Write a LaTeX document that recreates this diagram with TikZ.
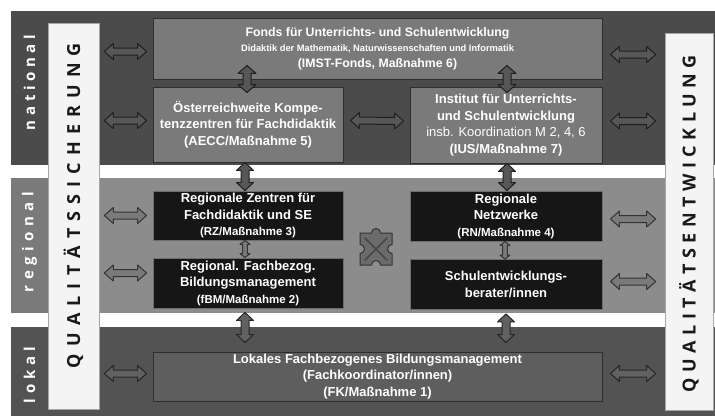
\documentclass[tikz,border=0pt]{standalone}
\usepackage{fontspec}
\setmainfont{Liberation Sans}
\newfontfamily\barfont[BoldFont={Open Sans Bold}]{Open Sans}
\usetikzlibrary{calc}
\definecolor{natband}{HTML}{4B4B4B}
\definecolor{regband}{HTML}{8C8C8C}
\definecolor{regstrip}{HTML}{7A7A7A}
\definecolor{lokband}{HTML}{535353}
\definecolor{midbox}{HTML}{7A7A7A}
\definecolor{lokbox}{HTML}{5E5E5E}
\definecolor{blackbox}{HTML}{161616}
\definecolor{edge}{HTML}{2E2E2E}
\definecolor{barfill}{HTML}{F4F4F4}
% spread letters evenly over a given width
\def\spreadloop#1{\ifx#1\relax\else\hfil#1\expandafter\spreadloop\fi}
\def\spreadfirst#1{#1\spreadloop}
\newcommand\spreadword[2]{\makebox[#1][s]{\spreadfirst#2\relax}}
\tikzset{
  boxtext/.style={text=white, align=center, font=\bfseries\fontsize{13}{16.5}\selectfont, inner sep=0pt},
  midboxst/.style={boxtext, fill=midbox, draw=edge, line width=0.9pt},
  blackboxst/.style={boxtext, fill=blackbox, draw=edge!70, line width=0.9pt},
  lokboxst/.style={boxtext, fill=lokbox, draw=edge, line width=0.9pt},
  barst/.style={fill=barfill, draw=gray!70, line width=0.6pt, inner sep=0pt},
  bartext/.style={rotate=90, inner sep=0pt, font=\barfont\bfseries\fontsize{18}{18}\selectfont, text=black!90},
  lbltext/.style={rotate=90, inner sep=0pt, font=\barfont\bfseries\fontsize{15}{15}\selectfont, text=white},
  arrN/.style={fill=black!66, draw=black!88, line width=1pt, line join=round},
  arrR/.style={fill=black!52, draw=black!80, line width=1pt, line join=round},
  arrL/.style={fill=black!62, draw=black!85, line width=1pt, line join=round},
}
% horizontal double block arrow: style, left tip, right tip, shaft half, head half, head length
\newcommand\hdarrow[6]{\draw[#1] (#2) -- ++(#6,#5) -- ++(0,#4-#5) -- ($(#3)+(-#6,#4)$) -- ++(0,#5-#4) -- (#3) -- ++(-#6,-#5) -- ++(0,#5-#4) -- ($(#2)+(#6,-#4)$) -- ++(0,#4-#5) -- cycle;}
% vertical double block arrow: style, top tip, bottom tip, shaft half, head half, head length
\newcommand\vdarrow[6]{\draw[#1] (#2) -- ++(#5,#6) -- ++(#4-#5,0) -- ($(#3)+(#4,-#6)$) -- ++(#5-#4,0) -- (#3) -- ++(-#5,-#6) -- ++(#5-#4,0) -- ($(#2)+(-#4,#6)$) -- ++(#4-#5,0) -- cycle;}
\begin{document}
\begin{tikzpicture}[x=1pt,y=-1pt]
\useasboundingbox (0,0) rectangle (715,416);
\fill[white] (0,0) rectangle (715,416);
% bands
\fill[natband] (11,11) rectangle (715,165);
\fill[regband] (11,178) rectangle (715,313);
\fill[regstrip] (11,178) rectangle (48,313);
\fill[lokband] (11,327) rectangle (715,416);
% level labels
\node[lbltext] (lnat) at (29.5,82.5) {\spreadword{95pt}{national}};
\node[lbltext] (lreg) at (29.5,242) {\spreadword{100pt}{regional}};
\node[lbltext] (llok) at (29.5,375) {\spreadword{56pt}{lokal}};
% side bars
\node[barst, minimum width=51pt, minimum height=386pt] (qs) at (73.5,216) {};
\node[bartext] (qstext) at (73.5,205.5) {\spreadword{325pt}{QUALITÄTSSICHERUNG}};
\node[barst, minimum width=48pt, minimum height=377pt] (qe) at (689,221.5) {};
\node[bartext] (qetext) at (689,223.5) {\spreadword{337pt}{QUALITÄTSENTWICKLUNG}};
% boxes
\node[midboxst, minimum width=449pt, minimum height=61pt] (fonds) at (377.5,48.5)
  {{\fontsize{12.3}{14}\selectfont Fonds für Unterrichts- und Schulentwicklung}\\[-1pt]
   {\fontsize{9.3}{12}\selectfont Didaktik der Mathematik, Naturwissenschaften und Informatik}\\[-1pt]
   {\fontsize{12.3}{14}\selectfont (IMST-Fonds, Maßnahme 6)}};
\node[midboxst, minimum width=190pt, minimum height=75pt] (oest) at (248,124.5)
  {Österreichweite Kompe-\\tenzzentren für Fachdidaktik\\(AECC/Maßnahme 5)};
\node[midboxst, minimum width=192pt, minimum height=76pt] (ius) at (506,125)
  {Institut für Unterrichts-\\und Schulentwicklung\\{\mdseries insb. Koordination M 2, 4, 6}\\(IUS/Maßnahme 7)};
\node[blackboxst, minimum width=190pt, minimum height=49pt] (rz) at (248,215.5)
  {Regionale Zentren für\\Fachdidaktik und SE\\{\fontsize{11.5}{14}\selectfont (RZ/Maßnahme 3)}};
\node[blackboxst, minimum width=190pt, minimum height=50pt] (fbm) at (248,283)
  {Regional. Fachbezog.\\Bildungsmanagement\\{\fontsize{11.5}{14}\selectfont (fBM/Maßnahme 2)}};
\node[blackboxst, minimum width=192pt, minimum height=50pt] (rn) at (506,216)
  {Regionale\\Netzwerke\\{\fontsize{11.5}{14}\selectfont (RN/Maßnahme 4)}};
\node[blackboxst, minimum width=192pt, minimum height=50pt] (se) at (506,284.5)
  {Schulentwicklungs-\\berater/innen};
\node[lokboxst, minimum width=449pt, minimum height=49pt] (lok) at (377.5,376.5)
  {Lokales Fachbezogenes Bildungsmanagement\\(Fachkoordinator/innen)\\(FK/Maßnahme 1)};
% left horizontal arrows
\foreach \b/\s/\dy in {fonds/arrN/3, oest/arrN/-4, rz/arrR/0, fbm/arrR/-10, lok/arrL/-3}{
  \coordinate (la) at ($(qs.east |- \b.west)+(5,\dy)$);
  \coordinate (lb) at ($(\b.west)+(-6,\dy)$);
  \hdarrow{\s}{la}{lb}{3.5}{8}{9}
}
% right horizontal arrows
\foreach \b/\s/\dy in {fonds/arrN/6, ius/arrN/-4, rn/arrR/3, se/arrR/-3, lok/arrL/-3}{
  \coordinate (ra) at ($(\b.east)+(8,\dy)$);
  \coordinate (rb) at ($(qe.west |- \b.east)+(-9,\dy)$);
  \hdarrow{\s}{ra}{rb}{3.5}{8}{9}
}
% middle horizontal arrow
\coordinate (ma) at ($(oest.east)+(7,-4)$);
\coordinate (mb) at ($(ius.west)+(-6,-4)$);
\hdarrow{arrN}{ma}{mb}{3.5}{8}{9}
% vertical arrows national
\coordinate (v1a) at ($(fonds.south)+(-130.5,-14)$);
\coordinate (v1b) at ($(oest.north)+(-1,6)$);
\vdarrow{arrN}{v1a}{v1b}{4}{9}{8}
\coordinate (v2a) at ($(fonds.south)+(129.5,-14)$);
\coordinate (v2b) at ($(ius.north)+(1,6)$);
\vdarrow{arrN}{v2a}{v2b}{4}{9}{8}
% national -> regional
\coordinate (v3a) at ($(oest.south)+(-3,0)$);
\coordinate (v3b) at ($(rz.north)+(-3,0)$);
\vdarrow{arrN}{v3a}{v3b}{4}{8.5}{8}
\coordinate (v4a) at ($(ius.south)+(1,0)$);
\coordinate (v4b) at ($(rn.north)+(1,0)$);
\vdarrow{arrN}{v4a}{v4b}{4}{8.5}{8}
% thin regional arrows
\coordinate (v5a) at ($(rz.south)+(-3,0)$);
\coordinate (v5b) at ($(fbm.north)+(-3,0)$);
\vdarrow{arrR}{v5a}{v5b}{2.3}{5}{4}
\coordinate (v6a) at ($(rn.south)+(-1,0)$);
\coordinate (v6b) at ($(se.north)+(-1,0)$);
\vdarrow{arrR}{v6a}{v6b}{2.3}{5}{4}
% regional -> lokal
\coordinate (v7a) at ($(fbm.south)+(-3,4)$);
\coordinate (v7b) at ($(lok.north -| fbm.south)+(-3,-9)$);
\vdarrow{arrL}{v7a}{v7b}{4}{8.5}{8}
\coordinate (v8a) at ($(se.south)+(0,4)$);
\coordinate (v8b) at ($(lok.north -| se.south)+(0,-9)$);
\vdarrow{arrL}{v8a}{v8b}{4}{8.5}{8}
% cross arrow
\begin{scope}[shift={(376,249)}]
  \draw[fill=black!58, draw=black!80, line width=1pt, line join=round]
    (-16,-16) -- (-4.5,-16) arc[start angle=180, end angle=360, radius=4.5] -- (16,-16)
    -- (16,-4.5) arc[start angle=270, end angle=90, radius=4.5] -- (16,16)
    -- (4.5,16) arc[start angle=0, end angle=-180, radius=4.5] -- (-16,16)
    -- (-16,4.5) arc[start angle=90, end angle=-90, radius=4.5] -- cycle;
  \draw[black!72, line width=1.6pt, line cap=round] (-11,-11) -- (11,11) (-11,11) -- (11,-11);
\end{scope}
\end{tikzpicture}
\end{document}
